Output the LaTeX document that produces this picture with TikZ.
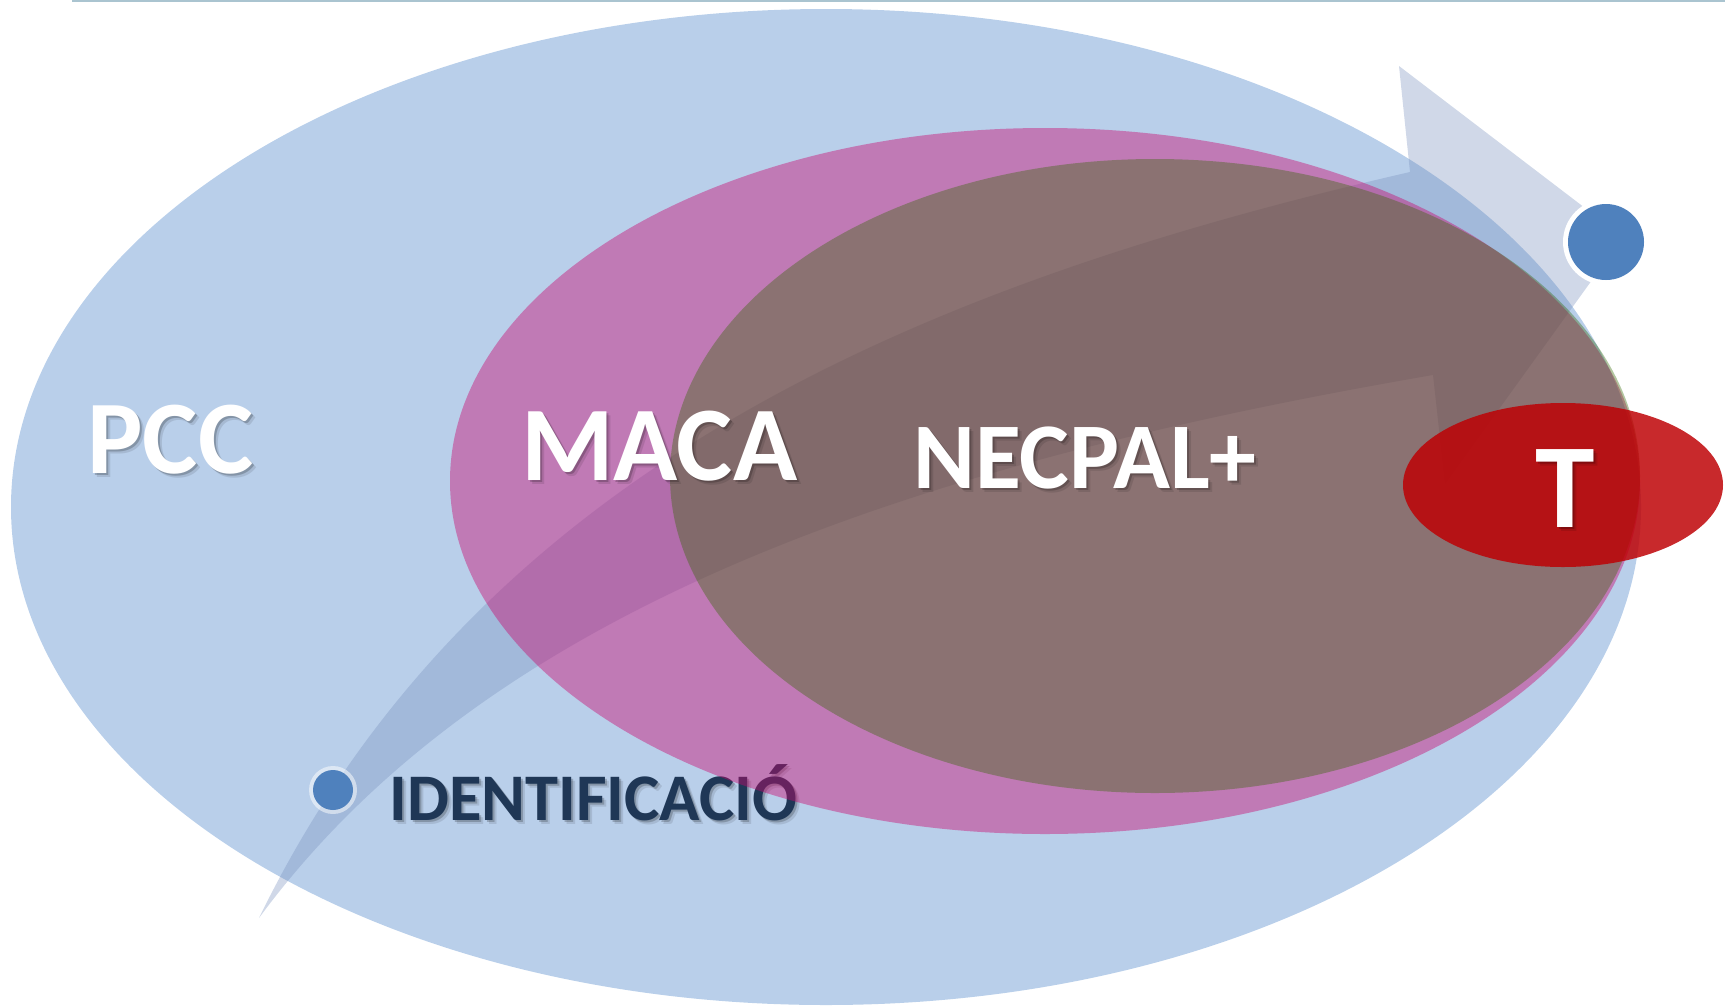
\documentclass[tikz,border=0pt]{standalone}
\usepackage{fontspec}
\setmainfont{Carlito}
\usetikzlibrary{positioning}

\definecolor{pccblue}{RGB}{185,207,234}
\definecolor{bandblue}{RGB}{121,144,189}
\definecolor{macamag}{RGB}{202,5,108}
\definecolor{necgreen}{RGB}{49,103,0}
\definecolor{tred}{RGB}{190,0,4}
\definecolor{dotblue}{RGB}{79,129,189}
\definecolor{identnavy}{RGB}{31,55,86}
\definecolor{rulegray}{RGB}{170,196,208}

\begin{document}
\begin{tikzpicture}[x=0.02cm, y=-0.02cm, % one unit = one pixel, y downwards
	label/.style={inner sep=0pt, anchor=base west, text=white},
	labelshadow/.style={inner sep=0pt, anchor=base west, text=black, opacity=0.16},
	band/.style={fill=bandblue, opacity=0.35}]
	\useasboundingbox (0,0) rectangle (1725,1005);
	\clip (0,0) rectangle (1725,1005);

	\coordinate (pcc-c) at (826,507);
	\coordinate (maca-c) at (1045,481);
	\coordinate (nec-c) at (1155,476);
	\coordinate (t-c) at (1563,485);
	\coordinate (start) at (333,790);
	\coordinate (goal) at (1606,242);

	\draw[rulegray, line width=1.2pt] (72,1) -- (1725,1);

	\fill[pccblue] (pcc-c) ellipse [x radius=815, y radius=498];

	% curved arrow from identification to T
	\fill[band] (259,918) .. controls (478,468) and (922,284) .. (1410,172)
		-- (1399,66) -- (1623,237) -- (1445,484) -- (1433,375)
		.. controls (940,460) and (496,596) .. (259,918) -- cycle;

	\fill[white, opacity=0.5] (start) circle [radius=24];
	\fill[dotblue] (start) circle [radius=20];

	\foreach \d/\o in {2/0.2, 4/0.1}
		\node[labelshadow, opacity=\o, font=\fontsize{37.9}{39}\selectfont\bfseries] at (389+\d,820+\d) {IDENTIFICACIÓ};
	\node[label, text=identnavy, font=\fontsize{37.9}{39}\selectfont\bfseries] (ident) at (389,820) {IDENTIFICACIÓ};

	\fill[macamag, opacity=0.42] (maca-c) ellipse [x radius=595, y radius=353];
	\fill[necgreen, opacity=0.37] (nec-c) ellipse [x radius=485, y radius=317];
	\fill[tred, opacity=0.84] (t-c) ellipse [x radius=160, y radius=82];

	\fill[white] (goal) circle [radius=43];
	\fill[dotblue] (goal) circle [radius=38];

	% white labels with a soft shadow
	\foreach \d/\o in {2/0.2, 4/0.1} {
		\node[labelshadow, opacity=\o, font=\fontsize{59.4}{60}\selectfont\bfseries] at (87+\d,473+\d) {PCC};
		\node[labelshadow, opacity=\o, font=\fontsize{60.3}{61}\selectfont\bfseries] at (521+\d,480+\d) {MACA};
		\node[labelshadow, opacity=\o, font=\fontsize{53.5}{54}\selectfont\bfseries] at (913+\d,488+\d) {NECPAL+};
		\node[labelshadow, opacity=\o, font=\fontsize{68.4}{69}\selectfont\bfseries] at (1535+\d,527+\d) {T};
	}
	\node[label, font=\fontsize{59.4}{60}\selectfont\bfseries] (pcc) at (87,473) {PCC};
	\node[label, font=\fontsize{60.3}{61}\selectfont\bfseries] (maca) at (521,480) {MACA};
	\node[label, font=\fontsize{53.5}{54}\selectfont\bfseries] (nec) at (913,488) {NECPAL+};
	\node[label, font=\fontsize{68.4}{69}\selectfont\bfseries] (t) at (1535,527) {T};
\end{tikzpicture}
\end{document}
